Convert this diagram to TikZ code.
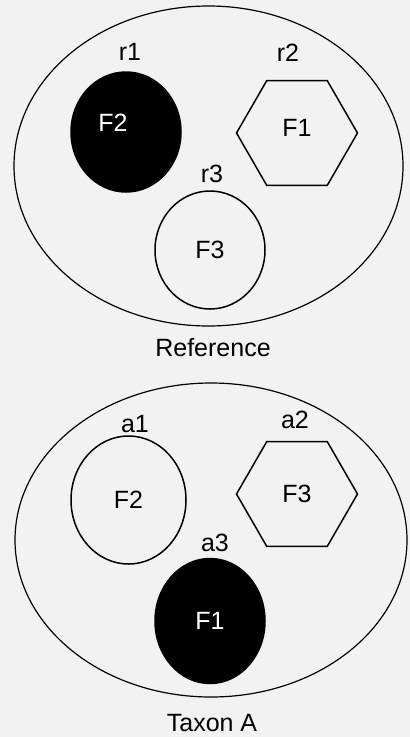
\documentclass[tikz,border=0pt]{standalone}
\usepackage{fontspec}
\setmainfont{Liberation Sans}
\usetikzlibrary{shapes.geometric,positioning}
\definecolor{paper}{RGB}{242,242,242}

\begin{document}
\begin{tikzpicture}[
  x=1pt, y=-1pt,
  font=\fontsize{25}{29}\selectfont,
  taxon/.style={draw, ellipse, line width=1.2pt, minimum width=#1, inner sep=0pt},
  feat/.style={draw, ellipse, line width=1.5pt, inner sep=0pt, minimum width=110pt, minimum height=#1},
  solid feat/.style={feat=#1, fill=black, text=white},
  hexfeat/.style={draw, regular polygon, regular polygon sides=6, line width=1.5pt, minimum size=121pt, inner sep=0pt},
  lab/.style={inner sep=0pt},
]
% paper
\fill[paper] (0,0) rectangle (410,737);
\useasboundingbox (0,0) rectangle (410,737);
% reference
\node[taxon=389pt, minimum height=320pt] (ref) at (208.5,166) {};
\node[solid feat=120pt] (r1) at (126,132) {F2\hspace{26pt}\rule[-18pt]{0pt}{18pt}};
\node[hexfeat] (r2) at (297,133) {F1\rule[-10pt]{0pt}{10pt}};
\node[feat=118pt] (r3) at (210,250) {F3};
\node[lab] (r1lab) at (130,52) {r1};
\node[lab] (r2lab) at (288,53) {r2};
\node[lab] (r3lab) at (212,174) {r3};
\node[lab] (reflab) at (213,348) {Reference};
% taxon A
\node[taxon=392pt, minimum height=314pt] (tax) at (211,540) {};
\node[feat=128pt, minimum width=115pt] (a1) at (128.5,500) {F2};
\node[hexfeat] (a2) at (297,494) {F3};
\node[solid feat=125pt] (a3) at (210,621) {F1};
\node[lab] (a1lab) at (135,424) {a1};
\node[lab] (a2lab) at (295,420) {a2};
\node[lab] (a3lab) at (215,543) {a3};
\node[lab] (taxlab) at (212,723) {Taxon A};
\end{tikzpicture}
\end{document}
